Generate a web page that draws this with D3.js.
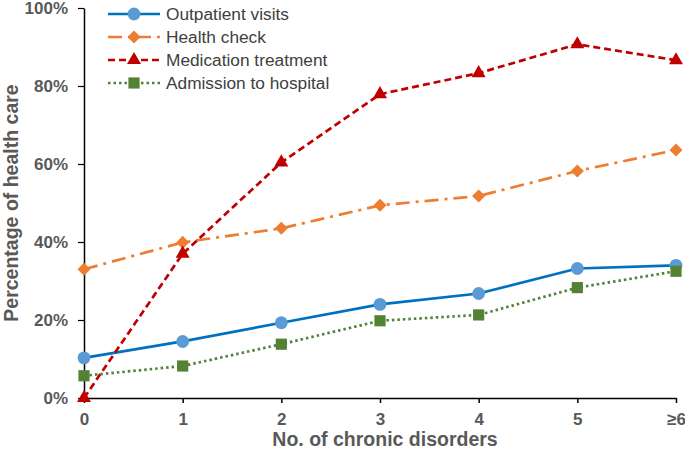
<!DOCTYPE html>
<html><head><meta charset="utf-8">
<script src="https://cdn.jsdelivr.net/npm/d3@7"></script>
<style>body{margin:0;background:#fff}svg{display:block}text{font-family:Arial,"Liberation Sans",sans-serif}</style>
</head><body>
<svg id="c" width="685" height="449"></svg>
<script>
const categories = ["0","1","2","3","4","5","≥6"];
const yTicks = [0,20,40,60,80,100];
const outpatient = [10.3, 14.5, 19.3, 24.0, 26.8, 33.2, 34.0];
const healthCheck = [33.0, 39.9, 43.5, 49.4, 51.8, 58.2, 63.6];
const medication = [0.0, 37.0, 60.4, 77.9, 83.3, 90.7, 86.6];
const admission = [5.7, 8.2, 13.8, 19.8, 21.3, 28.3, 32.5];

const series = [
  {name:"Outpatient visits", values:outpatient, line:"#0070C0", fill:"#5B9BD5", dash:null, marker:"circle"},
  {name:"Health check", values:healthCheck, line:"#ED7D31", fill:"#ED7D31", dash:"14,6,3,6", marker:"diamond"},
  {name:"Medication treatment", values:medication, line:"#C00000", fill:"#C00000", dash:"7,4", marker:"triangle"},
  {name:"Admission to hospital", values:admission, line:"#548235", fill:"#548235", dash:"2.5,3", marker:"square"}
];

const svg = d3.select("#c");
const x = d3.scalePoint().domain(categories).range([84, 676]);
const y = d3.scaleLinear().domain([0,100]).range([398, 8]);
const gray = "#595959";

// axes
const xa = svg.append("g").attr("transform","translate(0,398)")
  .call(d3.axisBottom(x).tickSize(5).tickPadding(10).tickSizeOuter(0));
xa.select(".domain").attr("stroke","#000").attr("stroke-width",1.5);
xa.selectAll(".tick line").attr("stroke","#000").attr("stroke-width",1.5);
xa.selectAll("text").attr("fill",gray).attr("font-size",17).attr("font-weight","bold");

const ya = svg.append("g").attr("transform","translate(84,0)")
  .call(d3.axisLeft(y).tickValues(yTicks).tickFormat(d=>d+"%").tickSize(6).tickPadding(10).tickSizeOuter(0));
ya.select(".domain").attr("stroke","#000").attr("stroke-width",1.5);
ya.selectAll(".tick line").attr("stroke","#000").attr("stroke-width",1.2);
ya.selectAll("text").attr("fill",gray).attr("font-size",17).attr("font-weight","bold");

svg.append("text").attr("x",385).attr("y",446).attr("text-anchor","middle")
  .attr("fill",gray).attr("font-size",19.5).attr("font-weight","bold").text("No. of chronic disorders");
svg.append("text").attr("transform","translate(18,203) rotate(-90)").attr("text-anchor","middle")
  .attr("fill",gray).attr("font-size",19.5).attr("font-weight","bold").text("Percentage of health care");

const rotSquare = {draw(ctx, size){ const r = Math.sqrt(size/2); ctx.moveTo(0,-r); ctx.lineTo(r,0); ctx.lineTo(0,r); ctx.lineTo(-r,0); ctx.closePath(); }};
const symType = {circle:d3.symbolCircle, diamond:rotSquare, triangle:d3.symbolTriangle, square:d3.symbolSquare};
const symSize = {circle:130, diamond:85, triangle:85, square:125};

const line = d3.line().x((d,i)=>x(categories[i])).y(d=>y(d));
series.forEach(s=>{
  svg.append("path").datum(s.values).attr("d",line).attr("fill","none")
    .attr("stroke",s.line).attr("stroke-width",2.7).attr("stroke-dasharray",s.dash);
});
series.forEach(s=>{
  svg.append("g").selectAll("path").data(s.values).join("path")
    .attr("transform",(d,i)=>`translate(${x(categories[i])},${y(d)})`)
    .attr("d",d3.symbol().type(symType[s.marker]).size(symSize[s.marker]))
    .attr("fill",s.fill);
});

// legend
const lg = svg.append("g");
series.forEach((s,i)=>{
  const yy = 14 + i*23;
  lg.append("line").attr("x1",108).attr("x2",160).attr("y1",yy).attr("y2",yy)
    .attr("stroke",s.line).attr("stroke-width",2.7).attr("stroke-dasharray",s.dash);
  lg.append("path").attr("transform",`translate(134,${yy})`)
    .attr("d",d3.symbol().type(symType[s.marker]).size(symSize[s.marker])).attr("fill",s.fill);
  lg.append("text").attr("x",166).attr("y",yy+6).attr("fill","#404040").attr("font-size",17.3).text(s.name);
});
</script>
</body></html>
